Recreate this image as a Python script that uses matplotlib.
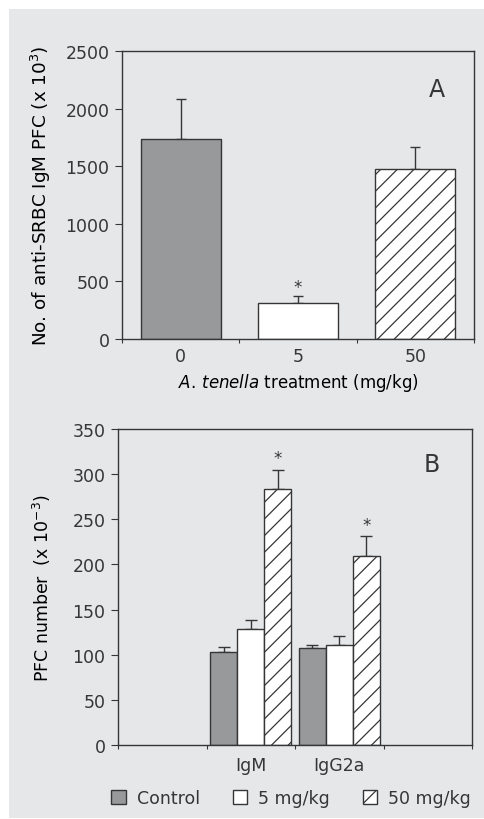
import matplotlib
matplotlib.use('Agg')
import matplotlib.pyplot as plt
from matplotlib.patches import Patch, Rectangle

# Panel A: anti-SRBC IgM PFC by dose
doses = ['0', '5', '50']
pfc_a = [1740, 315, 1475]
err_a = [345, 60, 190]
sig_a = [False, True, False]

# Panel B: PFC number by isotype
isotypes = ['IgM', 'IgG2a']
ctrl_b = [103, 107]
ctrl_err = [6, 4]
low_b = [128, 111]
low_err = [10, 10]
high_b = [284, 209]
high_err = [21, 22]
high_sig = [True, True]

legend_names = ['Control', '5 mg/kg', '50 mg/kg']

ink = '#363636'
bg = '#e6e7e8'
grey_bar = '#98999b'

plt.rcParams['font.family'] = ['DejaVu Sans']
plt.rcParams['text.color'] = ink
plt.rcParams['axes.edgecolor'] = ink
plt.rcParams['xtick.color'] = ink
plt.rcParams['ytick.color'] = ink
plt.rcParams['hatch.color'] = ink
plt.rcParams['hatch.linewidth'] = 0.9

fig = plt.figure(figsize=(4.85, 8.2), dpi=100)
fig.patches.append(Rectangle((9 / 485, 1 / 820), 1, 809 / 820, transform=fig.transFigure,
                             facecolor=bg, edgecolor='none', zorder=-10))

tick_fs = 12.5

# ---- panel A ----
axA = fig.add_axes([0.2515, 0.5854, 0.7258, 0.3512])
axA.set_facecolor(bg)
xa = range(len(doses))
styles = [dict(facecolor=grey_bar), dict(facecolor='white'), dict(facecolor='white', hatch='//')]
for i in xa:
    axA.bar(i, pfc_a[i], width=0.68, edgecolor=ink, linewidth=1, **styles[i], zorder=2)
    axA.errorbar(i, pfc_a[i], yerr=[[0], [err_a[i]]], color=ink, lw=1, capsize=3.6,
                 capthick=1, zorder=1)
    if sig_a[i]:
        axA.annotate('*', (i, pfc_a[i] + err_a[i]), xytext=(0, 0), textcoords='offset points',
                     ha='center', va='bottom', fontsize=12)
axA.set_xlim(-0.5, 2.5)
axA.set_ylim(0, 2500)
axA.set_yticks(range(0, 2501, 500))
axA.set_xticks([-0.5, 0.5, 1.5, 2.5])
axA.set_xticklabels([])
axA.set_xticks(list(xa), minor=True)
axA.set_xticklabels(doses, minor=True)
axA.tick_params(axis='x', which='minor', length=0, labelsize=tick_fs, pad=6)
axA.tick_params(axis='x', which='major', length=3, direction='out')
axA.tick_params(axis='y', length=5, labelsize=tick_fs, pad=4)
axA.set_ylabel('No. of anti-SRBC IgM PFC (x 10$^{3}$)', fontsize=13.2)
axA.yaxis.set_label_coords(-0.196, 0.5)
axA.set_xlabel(r'$\mathit{A.\,tenella}$ treatment (mg/kg)', fontsize=12, labelpad=4)
axA.text(0.895, 0.868, 'A', transform=axA.transAxes, fontsize=17, ha='center', va='center')

# ---- panel B ----
axB = fig.add_axes([0.2433, 0.0902, 0.7299, 0.3854])
axB.set_facecolor(bg)
w = 0.305
pos = [1, 2]
series = [(ctrl_b, ctrl_err, dict(facecolor=grey_bar), -w),
          (low_b, low_err, dict(facecolor='white'), 0),
          (high_b, high_err, dict(facecolor='white', hatch='//'), w)]
for vals, errs, st, off in series:
    xs = [p + off for p in pos]
    axB.bar(xs, vals, width=w, edgecolor=ink, linewidth=1, zorder=2, **st)
    axB.errorbar(xs, vals, yerr=[[0] * len(vals), errs], fmt='none', ecolor=ink,
                 elinewidth=1, capsize=4, capthick=1, zorder=1)
for p, v, e, s in zip(pos, high_b, high_err, high_sig):
    if s:
        axB.annotate('*', (p + w, v + e), xytext=(0, 2), textcoords='offset points',
                     ha='center', va='bottom', fontsize=12)
axB.set_xlim(-0.5, 3.5)
axB.set_ylim(0, 350)
axB.set_yticks(range(0, 351, 50))
axB.set_xticks([-0.5, 0.5, 1.5, 2.5, 3.5])
axB.set_xticklabels([])
axB.set_xticks(pos, minor=True)
axB.set_xticklabels(isotypes, minor=True)
axB.tick_params(axis='x', which='minor', length=0, labelsize=tick_fs, pad=8)
axB.tick_params(axis='x', which='major', length=3, direction='out')
axB.tick_params(axis='y', length=5, labelsize=tick_fs, pad=4)
axB.set_ylabel('PFC number  (x 10$^{-3}$)', fontsize=12.5)
axB.yaxis.set_label_coords(-0.184, 0.5)
axB.text(0.887, 0.889, 'B', transform=axB.transAxes, fontsize=17, ha='center', va='center')

for ax in (axA, axB):
    for sp in ax.spines.values():
        sp.set_linewidth(1)

handles = [Patch(facecolor=grey_bar, edgecolor=ink),
           Patch(facecolor='white', edgecolor=ink),
           Patch(facecolor='white', edgecolor=ink, hatch='//')]
fig.legend(handles, legend_names, loc='center', bbox_to_anchor=(0.6, 0.0256), ncol=3,
           frameon=False, fontsize=tick_fs, handlelength=0.85, handleheight=0.85,
           handletextpad=0.6, columnspacing=1.9)

fig.savefig('out.png', dpi=100, facecolor='white')
